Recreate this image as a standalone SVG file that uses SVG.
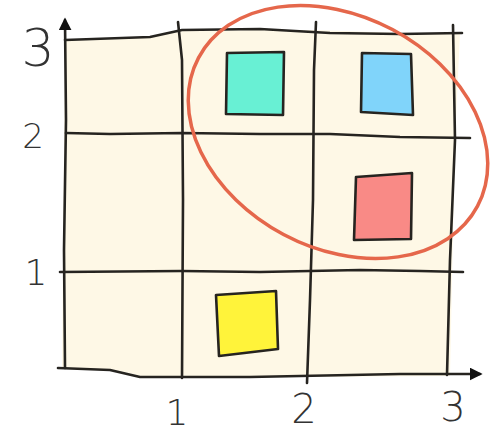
<svg xmlns="http://www.w3.org/2000/svg" width="490" height="433" viewBox="0 0 490 433">
<style>
.ln{fill:none;stroke:#262420;stroke-width:2.6;stroke-linecap:round;stroke-linejoin:round}
.sq{stroke:#262420;stroke-width:2.6;stroke-linejoin:round}
.lbl{font-family:"DejaVu Sans","Liberation Sans",sans-serif;fill:#333;font-weight:300}
</style>
<defs>
<marker id="ah" viewBox="0 0 10 10" refX="8" refY="5" markerWidth="5" markerHeight="5" orient="auto-start-reverse" markerUnits="strokeWidth">
<path d="M0,0 L10,5 L0,10 Z" fill="#111"/>
</marker>
</defs>
<rect width="490" height="433" fill="#fff"/>
<g id="background">
<path d="M65,40 L150,37 L182,31 L260,30 L315,30 L400,33 L460,33 L455,140 L450,376 L308,377 L145,377 L125,372 L62,368 Z" fill="#FEF8E6"/>
</g>
<g id="connectors">
<path class="ln" d="M65,368 L64,250 L66,120 L65,20" marker-end="url(#ah)"/>
<path class="ln" d="M58,368 L110,370 L140,377 L250,377 L400,374 L480,374" marker-end="url(#ah)"/>
<path class="ln" d="M178,22 L182,60 L183,200 L182,378"/>
<path class="ln" d="M316,22 L314,70 L313,200 L310,300 L307,383"/>
<path class="ln" d="M453,25 L455,140 L450,260 L447,375"/>
<path class="ln" d="M65,40 L150,37 L182,30 L260,29 L330,33 L400,34 L462,33"/>
<path class="ln" d="M66,133 L110,134 L182,133 L260,134 L330,134 L400,137 L470,138"/>
<path class="ln" d="M60,272 L182,271 L260,272 L360,270 L420,271 L463,272"/>
</g>
<g id="teal"><path class="sq" d="M227,53 L284,52 L283,115 L226,114 Z" fill="#68F0D4"/></g>
<g id="blue"><path class="sq" d="M362,53 L411,54 L413,115 L361,112 Z" fill="#80D4FA"/></g>
<g id="red"><path class="sq" d="M356,177 L412,173 L411,239 L354,240 Z" fill="#F98A86"/></g>
<g id="yellow"><path class="sq" d="M216,295 L276,291 L278,349 L219,356 Z" fill="#FFF33A"/></g>
<g id="selection">
<ellipse cx="338" cy="132" rx="158" ry="116" transform="rotate(28 338 132)" fill="none" stroke="#E5674B" stroke-width="3.5"/>
</g>
<g id="labels">
<text class="lbl" x="38" y="66" font-size="52" text-anchor="middle">3</text>
<text class="lbl" x="33" y="148" font-size="34" text-anchor="middle">2</text>
<text class="lbl" x="36" y="285" font-size="36" text-anchor="middle">1</text>
<text class="lbl" x="177" y="425" font-size="36" text-anchor="middle">1</text>
<text class="lbl" x="304" y="423" font-size="40" text-anchor="middle">2</text>
<text class="lbl" x="453" y="421" font-size="40" text-anchor="middle">3</text>
</g>
</svg>
